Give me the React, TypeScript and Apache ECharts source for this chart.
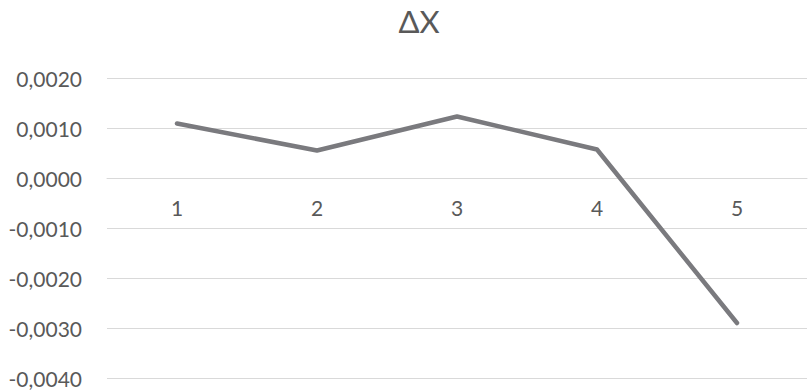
import React, { useEffect, useRef } from "react";
import * as echarts from "echarts";

const categories = ["1", "2", "3", "4", "5"];
const deltaX = [0.00109, 0.00055, 0.00123, 0.00057, -0.0029];
const yMin = -0.004;
const yMax = 0.002;
const yStep = 0.001;

const fmt = (v: number) => v.toFixed(4).replace(".", ",");

// plot area in pixels
const gridTop = 78;
const gridBottom = 13;
const plotHeight = 391 - gridTop - gridBottom;
// lift the category axis from the bottom edge up to the zero line
const zeroOffset = -plotHeight * ((0 - yMin) / (yMax - yMin));

export default function App() {
  const ref = useRef<HTMLDivElement>(null);

  useEffect(() => {
    document.body.style.margin = "0";
    const chart = echarts.init(ref.current!, null, { renderer: "svg" });
    const font = "Lato, 'Open Sans', sans-serif";
    chart.setOption({
      animation: false,
      backgroundColor: "#ffffff",
      title: {
        text: "ΔX",
        left: 414,
        top: 0,
        textAlign: "center",
        textStyle: { color: "#595959", fontSize: 31, fontWeight: "normal", fontFamily: font },
      },
      grid: {
        left: 107,
        right: 1,
        top: gridTop,
        bottom: gridBottom,
        containLabel: false,
        outerBoundsMode: "none",
      },
      xAxis: {
        type: "category",
        data: categories,
        boundaryGap: true,
        position: "bottom",
        offset: zeroOffset,
        axisLine: { onZero: false, lineStyle: { color: "#d9d9d9", width: 1 } },
        axisTick: { show: false },
        axisLabel: { color: "#595959", fontSize: 21, fontFamily: font, margin: 19 },
        splitLine: { show: false },
      },
      yAxis: {
        type: "value",
        min: yMin,
        max: yMax,
        interval: yStep,
        axisLine: { show: false },
        axisTick: { show: false },
        axisLabel: { color: "#595959", fontSize: 21, fontFamily: font, margin: 25, formatter: fmt },
        splitLine: { lineStyle: { color: "#d9d9d9", width: 1 } },
      },
      series: [
        {
          type: "line",
          data: deltaX,
          symbol: "none",
          lineStyle: { color: "#7a7a7e", width: 4.5, cap: "round", join: "round" },
        },
      ],
    });
    return () => chart.dispose();
  }, []);

  return <div ref={ref} style={{ width: 808, height: 391 }} />;
}
